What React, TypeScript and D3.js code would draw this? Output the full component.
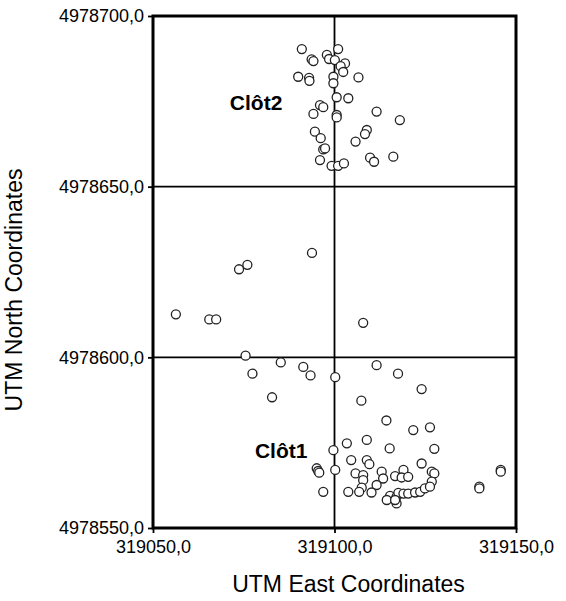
import React, { useEffect, useRef } from "react";
import * as d3 from "d3";

// x-axis (UTM East) and y-axis (UTM North) ticks
const eastTicks = [319050, 319100, 319150];
const northTicks = [4978550, 4978600, 4978650, 4978700];

// sample points
const clot2East = [
  319091.0, 319093.7, 319094.2, 319097.9, 319098.5, 319101.0, 319100.1, 319102.9, 319101.7, 319102.4,
  319090.0, 319093.0, 319093.1, 319099.7, 319099.7, 319106.6, 319100.6, 319103.8, 319096.0, 319096.9,
  319094.2, 319100.6, 319100.6, 319111.6, 319118.0, 319094.6, 319096.2, 319108.9, 319108.4, 319105.8,
  319096.9, 319097.4, 319096.0, 319109.8, 319110.9, 319116.2, 319099.2, 319101.0, 319102.6,
];
const clot2North = [
  4978690.3, 4978687.3, 4978686.8, 4978688.6, 4978687.4, 4978690.3, 4978687.1, 4978686.1, 4978685.3, 4978683.6,
  4978682.2, 4978681.9, 4978681.0, 4978682.2, 4978680.3, 4978682.0, 4978676.2, 4978675.9, 4978673.9, 4978673.3,
  4978671.3, 4978671.0, 4978670.3, 4978672.0, 4978669.5, 4978666.1, 4978664.2, 4978666.6, 4978665.4, 4978663.2,
  4978660.9, 4978661.2, 4978657.8, 4978658.5, 4978657.3, 4978658.8, 4978656.1, 4978656.1, 4978656.8,
];

const middleEast = [319056.3, 319065.5, 319067.4, 319073.7, 319076.0, 319093.8, 319107.9];
const middleNorth = [4978612.6, 4978611.1, 4978611.1, 4978625.8, 4978627.1, 4978630.6, 4978610.1];

const clot1East = [
  319075.5, 319085.2, 319077.4, 319091.4, 319093.4, 319100.2, 319111.6, 319117.5, 319124.0, 319082.8,
  319107.4, 319114.3, 319121.7, 319126.3, 319103.4, 319108.9, 319099.7, 319115.2, 319127.5, 319104.6,
  319108.9, 319109.6, 319124.0, 319095.1, 319095.5, 319095.8, 319100.2, 319105.8, 319107.9, 319113.0,
  319113.4, 319107.9, 319116.7, 319119.0, 319118.5, 319120.3, 319126.8, 319127.5, 319126.8, 319111.6,
  319107.5, 319096.9, 319103.8, 319106.8, 319110.2, 319115.3, 319114.4, 319117.1, 319117.6, 319117.1,
  319116.7, 319119.0, 319120.3, 319122.2, 319123.6, 319124.9, 319126.3, 319139.9, 319139.9, 319145.8,
  319145.8,
];
const clot1North = [
  4978600.5, 4978598.5, 4978595.2, 4978597.2, 4978594.7, 4978594.2, 4978597.7, 4978595.2, 4978590.7, 4978588.3,
  4978587.3, 4978581.5, 4978578.7, 4978579.5, 4978574.8, 4978575.8, 4978572.8, 4978573.3, 4978573.2, 4978569.9,
  4978569.9, 4978568.7, 4978568.9, 4978567.5, 4978566.7, 4978566.2, 4978567.0, 4978566.0, 4978565.5, 4978566.5,
  4978564.5, 4978564.0, 4978565.2, 4978567.0, 4978564.8, 4978565.0, 4978566.5, 4978566.0, 4978563.6, 4978562.6,
  4978561.8, 4978560.6, 4978560.6, 4978560.6, 4978560.4, 4978559.4, 4978558.2, 4978559.2, 4978560.3, 4978557.2,
  4978558.2, 4978560.1, 4978560.1, 4978560.4, 4978560.6, 4978561.6, 4978562.1, 4978562.1, 4978561.6, 4978567.0,
  4978566.5,
];

const labels = ["Clôt2", "Clôt1"];
const labelEast = [319078.4, 319085.3];
const labelNorth = [4978674.5, 4978572.8];

export default function App() {
  const ref = useRef<SVGSVGElement>(null);

  useEffect(() => {
    const margin = { top: 16, right: 50, bottom: 73, left: 153 };
    const width = 566 - margin.left - margin.right;
    const height = 601 - margin.top - margin.bottom;

    const root = d3.select(ref.current);
    root.selectAll("*").remove();
    const svg = root.append("g").attr("transform", `translate(${margin.left},${margin.top})`);

    const x = d3.scaleLinear().domain([319050, 319150]).range([0, width]);
    const y = d3.scaleLinear().domain([4978550, 4978700]).range([height, 0]);
    const fmt = (d: number) => d.toFixed(1).replace(".", ",");
    const font = "Liberation Sans, Arial, sans-serif";

    // grid lines
    svg.selectAll(".vgrid")
      .data([319100])
      .join("line")
      .attr("x1", d => x(d)).attr("x2", d => x(d))
      .attr("y1", 0).attr("y2", height)
      .attr("stroke", "#000").attr("stroke-width", 1.8);
    svg.selectAll(".hgrid")
      .data([4978600, 4978650])
      .join("line")
      .attr("x1", 0).attr("x2", width)
      .attr("y1", d => y(d)).attr("y2", d => y(d))
      .attr("stroke", "#000").attr("stroke-width", 1.8);

    // frame
    svg.append("rect")
      .attr("width", width).attr("height", height)
      .attr("fill", "none").attr("stroke", "#000").attr("stroke-width", 3);

    // axes
    const xAxis = svg.append("g")
      .attr("transform", `translate(0,${height})`)
      .call(d3.axisBottom(x).tickValues(eastTicks).tickFormat(d => fmt(+d)).tickSize(5).tickPadding(7));
    const yAxis = svg.append("g")
      .call(d3.axisLeft(y).tickValues(northTicks).tickFormat(d => fmt(+d)).tickSize(5).tickPadding(4));
    [xAxis, yAxis].forEach(a => {
      a.select(".domain").remove();
      a.selectAll("line").attr("stroke", "#000").attr("stroke-width", 1.8);
      a.selectAll("text")
        .attr("fill", "#000")
        .style("font-family", font)
        .style("font-size", "18px");
    });

    // points
    const pts: [number, number][] = [];
    clot2East.forEach((e, i) => pts.push([e, clot2North[i]]));
    middleEast.forEach((e, i) => pts.push([e, middleNorth[i]]));
    clot1East.forEach((e, i) => pts.push([e, clot1North[i]]));
    svg.selectAll(".pt")
      .data(pts)
      .join("circle")
      .attr("cx", d => x(d[0]))
      .attr("cy", d => y(d[1]))
      .attr("r", 4.5)
      .attr("fill", "#fff")
      .attr("stroke", "#222")
      .attr("stroke-width", 1.3);

    // cluster labels
    svg.selectAll(".lbl")
      .data(labels)
      .join("text")
      .attr("x", (d, i) => x(labelEast[i]))
      .attr("y", (d, i) => y(labelNorth[i]))
      .attr("text-anchor", "middle")
      .attr("dy", "0.35em")
      .style("font-family", font)
      .style("font-size", "21px")
      .style("font-weight", "bold")
      .text(d => d);

    // axis titles
    svg.append("text")
      .attr("x", width / 2 + 14)
      .attr("y", height + 64)
      .attr("text-anchor", "middle")
      .style("font-family", font)
      .style("font-size", "23px")
      .text("UTM East Coordinates");
    svg.append("text")
      .attr("transform", `translate(${-131},${height / 2 + 18}) rotate(-90)`)
      .attr("text-anchor", "middle")
      .style("font-family", font)
      .style("font-size", "23px")
      .text("UTM North Coordinates");
  }, []);

  return (
    <svg
      ref={ref}
      width={566}
      height={601}
      style={{ position: "absolute", left: 0, top: 0, background: "#fff" }}
    />
  );
}
